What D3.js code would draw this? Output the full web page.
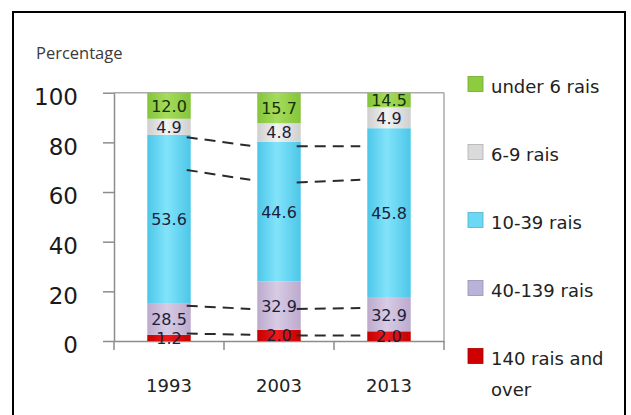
<!DOCTYPE html>
<html>
<head>
<meta charset="utf-8">
<script src="https://cdn.jsdelivr.net/npm/d3@7"></script>
<style>
  html, body { margin: 0; padding: 0; background: #fff; }
  svg { display: block; }
</style>
</head>
<body>
<svg id="chart" width="631" height="415"></svg>
<script>
// ---- data ----
const years = ["1993", "2003", "2013"];
// stack order, bottom to top
const seriesKeys = ["140 rais and over", "40-139 rais", "10-39 rais", "6-9 rais", "under 6 rais"];
// segment heights as drawn in the picture (percent)
const drawn140plus = [2.5, 4.5, 3.9];
const drawn40to139 = [12.5, 19.5, 13.5];
const drawn10to39  = [68.0, 56.3, 68.3];
const drawn6to9    = [6.5, 7.4, 8.4];
const drawnUnder6  = [10.5, 12.3, 5.9];
// printed data labels
const label140plus = ["1.2", "2.0", "2.0"];
const label40to139 = ["28.5", "32.9", "32.9"];
const label10to39  = ["53.6", "44.6", "45.8"];
const label6to9    = ["4.9", "4.8", "4.9"];
const labelUnder6  = ["12.0", "15.7", "14.5"];
// dashed series lines between bars: value at left bar, value at right bar
const connectorStart = [[82.1, 68.9, 14.2, 3.0], [78.4, 63.8, 12.9, 2.2]];
const connectorEnd   = [[78.6, 64.9, 12.9, 2.5], [78.4, 64.9, 13.3, 2.2]];
const yTicks = [0, 20, 40, 60, 80, 100];
const yTitle = "Percentage";
const legendLines = {
  "under 6 rais": ["under 6 rais"],
  "6-9 rais": ["6-9 rais"],
  "10-39 rais": ["10-39 rais"],
  "40-139 rais": ["40-139 rais"],
  "140 rais and over": ["140 rais and", "over"]
};

// ---- styles ----
const colors = {
  "140 rais and over": ["#c40000", "#ee1a1a"],
  "40-139 rais": ["#bcaacd", "#d8cbe4"],
  "10-39 rais": ["#4cc7e8", "#82e3fa"],
  "6-9 rais": ["#cfcfcf", "#f2f2f2"],
  "under 6 rais": ["#84c43a", "#a6dc5c"]
};
const legendColors = {
  "140 rais and over": "#d00000",
  "40-139 rais": "#b9b3da",
  "10-39 rais": "#6bd8f4",
  "6-9 rais": "#dadada",
  "under 6 rais": "#8ccc3e"
};

const drawnBySeries = [drawn140plus, drawn40to139, drawn10to39, drawn6to9, drawnUnder6];
const labelsBySeries = [label140plus, label40to139, label10to39, label6to9, labelUnder6];

const rows = years.map((yr, i) => {
  const r = { year: yr };
  seriesKeys.forEach((k, s) => { r[k] = drawnBySeries[s][i]; });
  return r;
});

const svg = d3.select("#chart");
svg.append("rect").attr("width", 631).attr("height", 415).attr("fill", "#fff");

// gradients
const defs = svg.append("defs");
seriesKeys.forEach((k, s) => {
  const g = defs.append("linearGradient").attr("id", "grad" + s)
    .attr("x1", "0").attr("x2", "1").attr("y1", "0").attr("y2", "0");
  g.append("stop").attr("offset", "0%").attr("stop-color", colors[k][0]);
  g.append("stop").attr("offset", "45%").attr("stop-color", colors[k][1]);
  g.append("stop").attr("offset", "100%").attr("stop-color", colors[k][0]);
});

// outer border
svg.append("rect").attr("x", 13).attr("y", 12).attr("width", 612).attr("height", 430)
  .attr("fill", "none").attr("stroke", "#000").attr("stroke-width", 2);

const x = d3.scaleBand().domain(years).range([114, 444]).padding(0);
const y = d3.scaleLinear().domain([0, 100]).range([341, 92.7]);
const barW = x.bandwidth() * 0.395;

// plot frame (top & right)
const axisColor = "#8c8c8c";
svg.append("line").attr("x1", x.range()[0]).attr("x2", x.range()[1])
  .attr("y1", y(100)).attr("y2", y(100)).attr("stroke", "#aaa").attr("stroke-width", 1.5);
svg.append("line").attr("x1", x.range()[1]).attr("x2", x.range()[1])
  .attr("y1", y(100)).attr("y2", y(0)).attr("stroke", "#aaa").attr("stroke-width", 1.5);

// y axis
const yAxis = svg.append("g").attr("transform", `translate(${x.range()[0]},0)`)
  .call(d3.axisLeft(y).tickValues(yTicks).tickSize(11).tickSizeOuter(0).tickPadding(25));
yAxis.select(".domain").attr("stroke", axisColor).attr("stroke-width", 1.5);
yAxis.selectAll(".tick line").attr("stroke", axisColor).attr("stroke-width", 1.5);
yAxis.selectAll(".tick text").attr("font-family", "DejaVu Sans, Verdana, sans-serif")
  .attr("font-size", 23).attr("fill", "#1a1a1a").attr("dy", "0.52em");

// x axis
const xAxis = svg.append("g").attr("transform", `translate(0,${y(0)})`)
  .call(d3.axisBottom(x).tickSize(0).tickSizeOuter(0).tickPadding(38));
xAxis.select(".domain").attr("stroke", axisColor).attr("stroke-width", 1.5);
xAxis.selectAll(".tick text").attr("font-family", "DejaVu Sans, Verdana, sans-serif")
  .attr("font-size", 18).attr("fill", "#222");
const boundaries = years.map(d => x(d)).concat([x(years[years.length - 1]) + x.bandwidth()]);
xAxis.selectAll("line.bound").data(boundaries).join("line").attr("class", "bound")
  .attr("x1", d => d).attr("x2", d => d).attr("y1", 0).attr("y2", 9)
  .attr("stroke", axisColor).attr("stroke-width", 1.5);

// y title
svg.append("text").attr("x", 36).attr("y", 59).text(yTitle)
  .attr("font-family", "Open Sans, sans-serif").attr("font-size", 16.5).attr("fill", "#3a3a3a");

// bars
const stacked = d3.stack().keys(seriesKeys)(rows);
const barX = d => x(d.data.year) + (x.bandwidth() - barW) / 2;
svg.append("g").selectAll("g").data(stacked).join("g")
  .attr("fill", (d, s) => `url(#grad${s})`)
  .selectAll("rect").data(d => d).join("rect")
  .attr("x", barX).attr("width", barW)
  .attr("y", d => y(d[1])).attr("height", d => y(d[0]) - y(d[1]));

// connectors (dashed series lines)
const connG = svg.append("g");
connectorStart.forEach((starts, gi) => {
  const leftYear = years[gi], rightYear = years[gi + 1];
  const xs = x(leftYear) + (x.bandwidth() + barW) / 2 - 4;
  const xe = x(rightYear) + (x.bandwidth() - barW) / 2 - 7;
  starts.forEach((v, li) => {
    connG.append("line").attr("x1", xs).attr("x2", xe)
      .attr("y1", y(v)).attr("y2", y(connectorEnd[gi][li]))
      .attr("stroke", "#2a2a2a").attr("stroke-width", 2).attr("stroke-dasharray", "11,7");
  });
});

// bar labels
const labG = svg.append("g");
stacked.forEach((ser, s) => {
  ser.forEach((d, i) => {
    labG.append("text")
      .attr("x", x(d.data.year) + x.bandwidth() / 2)
      .attr("y", y((d[0] + d[1]) / 2) + 6)
      .attr("text-anchor", "middle")
      .attr("font-family", "DejaVu Sans, Verdana, sans-serif")
      .attr("font-size", 16)
      .attr("fill", s === 4 ? "#15300a" : "#1b1f3b")
      .text(labelsBySeries[s][i]);
  });
});

// legend
const legendOrder = seriesKeys.slice().reverse();
const lg = svg.append("g");
legendOrder.forEach((k, i) => {
  const cy = 84 + i * 68;
  lg.append("rect").attr("x", 468).attr("y", cy - 7.5).attr("width", 15).attr("height", 15)
    .attr("fill", legendColors[k]).attr("stroke", d3.color(legendColors[k]).darker(0.6)).attr("stroke-width", 0.8);
  legendLines[k].forEach((t, j) => {
    lg.append("text").attr("x", 491).attr("y", cy + 8.5 + j * 31)
      .attr("font-family", "DejaVu Sans, Verdana, sans-serif").attr("font-size", 18)
      .attr("fill", "#222").text(t);
  });
});
</script>
</body>
</html>
